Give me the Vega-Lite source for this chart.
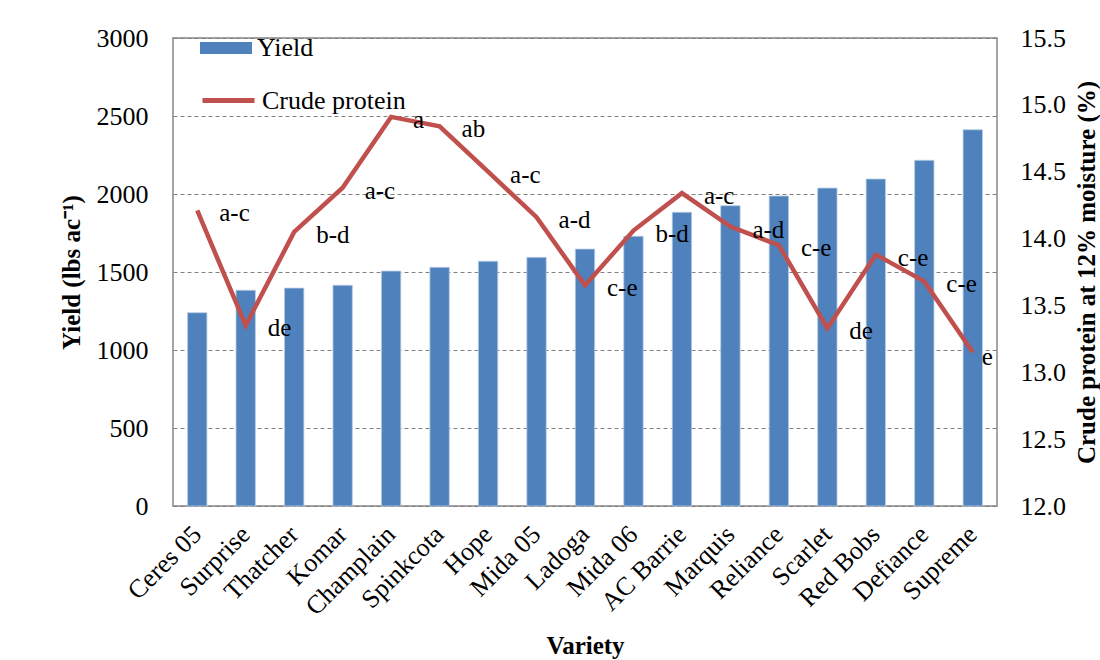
{
  "$schema": "https://vega.github.io/schema/vega-lite/v6.json",
  "autosize": {"type": "none"},
  "padding": {"left": 173, "top": 38, "right": 103, "bottom": 154},
  "width": 824,
  "height": 468,
  "background": "white",
  "config": {
    "font": "Liberation Serif",
    "view": {"stroke": "#868686", "strokeWidth": 1.5},
    "text": {"font": "Liberation Serif"},
    "legend": {"labelFont": "Liberation Serif", "labelFontSize": 26, "labelColor": "black"},
    "axis": {"labelFont": "Liberation Serif", "titleFont": "Liberation Serif", "labelColor": "black", "titleColor": "black", "labelFontSize": 26, "titleFontSize": 25, "titleFontWeight": "bold", "domain": false, "ticks": false}
  },
  "data": {
    "values": [
      {"variety": "Ceres 05", "yield": 1239, "protein": 14.21, "letter": "a-c"},
      {"variety": "Surprise", "yield": 1383, "protein": 13.35, "letter": "de"},
      {"variety": "Thatcher", "yield": 1397, "protein": 14.05, "letter": "b-d"},
      {"variety": "Komar", "yield": 1415, "protein": 14.38, "letter": "a-c"},
      {"variety": "Champlain", "yield": 1506, "protein": 14.91, "letter": "a"},
      {"variety": "Spinkcota", "yield": 1530, "protein": 14.84, "letter": "ab"},
      {"variety": "Hope", "yield": 1569, "protein": 14.5, "letter": "a-c"},
      {"variety": "Mida 05", "yield": 1594, "protein": 14.16, "letter": "a-d"},
      {"variety": "Ladoga", "yield": 1647, "protein": 13.65, "letter": "c-e"},
      {"variety": "Mida 06", "yield": 1729, "protein": 14.06, "letter": "b-d"},
      {"variety": "AC Barrie", "yield": 1883, "protein": 14.34, "letter": "a-c"},
      {"variety": "Marquis", "yield": 1925, "protein": 14.09, "letter": "a-d"},
      {"variety": "Reliance", "yield": 1987, "protein": 13.95, "letter": "c-e"},
      {"variety": "Scarlet", "yield": 2038, "protein": 13.33, "letter": "de"},
      {"variety": "Red Bobs", "yield": 2096, "protein": 13.88, "letter": "c-e"},
      {"variety": "Defiance", "yield": 2216, "protein": 13.68, "letter": "c-e"},
      {"variety": "Supreme", "yield": 2412, "protein": 13.15, "letter": "e"}
    ]
  },
  "encoding": {
    "x": {
      "field": "variety", "type": "nominal", "sort": null,
      "scale": {"paddingInner": 0.6, "paddingOuter": 0.3},
      "axis": {"title": "Variety", "labelAngle": -45, "labelAlign": "right", "labelBaseline": "middle", "labelPadding": 24, "titlePadding": 14}
    }
  },
  "layer": [
    {
      "mark": {"type": "bar", "stroke": "#B9CDE5", "strokeWidth": 0.8},
      "encoding": {
        "y": {
          "field": "yield", "type": "quantitative",
          "scale": {"domain": [0, 3000], "nice": false},
          "axis": {"title": "Yield (lbs ac⁻¹)", "format": "d", "values": [0, 500, 1000, 1500, 2000, 2500, 3000], "grid": true, "gridColor": "#808080", "gridDash": [4, 3], "gridWidth": 1, "labelPadding": 25, "titlePadding": 12}
        },
        "fill": {
          "datum": "Yield", "type": "nominal",
          "scale": {"range": ["#4F81BD"]},
          "legend": {"orient": "none", "legendX": 27, "legendY": -16, "title": null, "symbolType": "M-1,-0.23H1V0.23H-1Z", "symbolSize": 2704, "symbolStrokeWidth": 0, "labelFont": "Liberation Serif", "labelFontSize": 26, "labelColor": "black", "labelOffset": 5, "padding": 0}
        }
      }
    },
    {
      "encoding": {
        "y": {
          "field": "protein", "type": "quantitative",
          "scale": {"domain": [12, 15.5], "nice": false, "zero": false},
          "axis": {"title": "Crude protein at 12% moisture (%)", "orient": "right", "values": [12, 12.5, 13, 13.5, 14, 14.5, 15, 15.5], "format": ".1f", "grid": false, "labelPadding": 23, "titlePadding": 34, "titleAngle": 270}
        }
      },
      "layer": [
        {
          "mark": {"type": "line", "strokeWidth": 4.5, "strokeJoin": "miter"},
          "encoding": {
            "stroke": {
              "datum": "Crude protein", "type": "nominal",
              "scale": {"range": ["#C0504D"]},
              "legend": {"orient": "none", "legendX": 27, "legendY": 34, "title": null, "symbolType": "stroke", "symbolSize": 2704, "symbolStrokeWidth": 5, "labelFont": "Liberation Serif", "labelFontSize": 26, "labelColor": "black", "labelOffset": 5, "padding": 0}
            }
          }
        },
        {
          "transform": [{"filter": "datum.variety !== 'Supreme'"}],
          "mark": {"type": "text", "align": "left", "baseline": "middle", "dx": 22, "dy": 3, "fontSize": 25, "font": "Liberation Serif", "color": "black"},
          "encoding": {"text": {"field": "letter"}}
        },
        {
          "transform": [{"filter": "datum.variety === 'Supreme'"}],
          "mark": {"type": "text", "align": "left", "baseline": "middle", "dx": 9, "dy": 5, "fontSize": 25, "font": "Liberation Serif", "color": "black"},
          "encoding": {"text": {"field": "letter"}}
        }
      ]
    }
  ],
  "resolve": {"scale": {"y": "independent"}}
}
